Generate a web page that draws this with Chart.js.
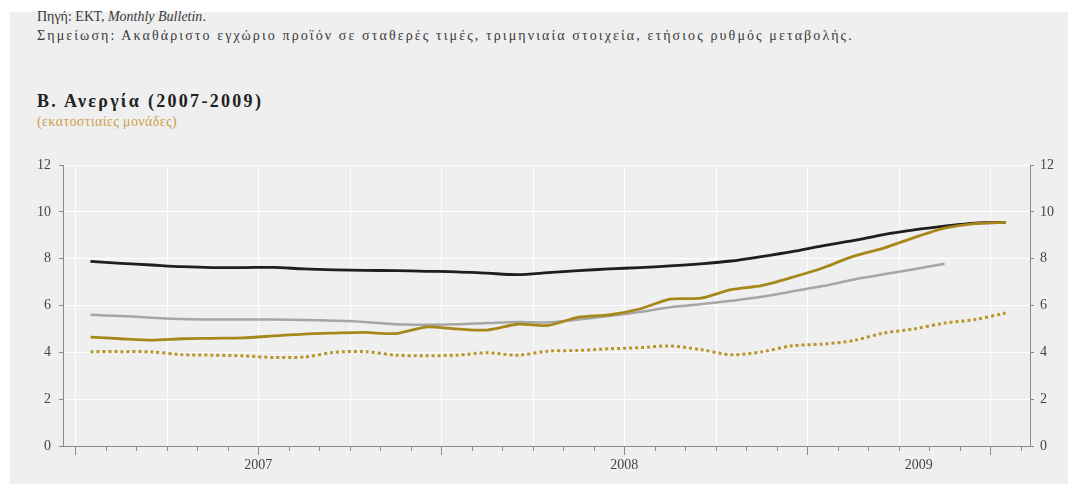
<!DOCTYPE html>
<html>
<head>
<meta charset="utf-8">
<script src="https://cdn.jsdelivr.net/npm/chart.js@4.4.0/dist/chart.umd.min.js"></script>
<style>
    html, body { margin: 0; padding: 0; background: #fff; }
    #panel { position: absolute; left: 10px; top: 12px; width: 1058px; height: 472px; background: #efefef; }
    .txt { position: absolute; font-family: "Liberation Serif", "DejaVu Serif", serif; color: #3a3a3a; white-space: nowrap; }
    #unemploymentChart { position: absolute; left: 0; top: 0; }
</style>
</head>
<body>
<div id="panel"></div>
<div class="txt" style="left:37px; top:9px; font-size:14px;">Πηγή: ΕΚΤ, <i>Monthly Bulletin</i>.</div>
<div class="txt" style="left:37px; top:28px; font-size:14px; letter-spacing:2.1px;">Σημείωση: Ακαθάριστο εγχώριο προϊόν σε σταθερές τιμές, τριμηνιαία στοιχεία, ετήσιος ρυθμός μεταβολής.</div>
<div class="txt" style="left:37px; top:91px; font-size:18px; font-weight:bold; letter-spacing:2.3px; color:#222;">Β. Ανεργία (2007-2009)</div>
<div class="txt" style="left:37px; top:114px; font-size:14px; letter-spacing:0.4px; color:#c9a24a;">(εκατοστιαίες μονάδες)</div>
<canvas id="unemploymentChart" width="1068" height="484"></canvas>
<script>
// monthly observations, Jan 2007 - Jul 2009
const months = [
    '01/2007', '02/2007', '03/2007', '04/2007', '05/2007', '06/2007', '07/2007', '08/2007', '09/2007', '10/2007', '11/2007', '12/2007',
    '01/2008', '02/2008', '03/2008', '04/2008', '05/2008', '06/2008', '07/2008', '08/2008', '09/2008', '10/2008', '11/2008', '12/2008',
    '01/2009', '02/2009', '03/2009', '04/2009', '05/2009', '06/2009', '07/2009'
];
const years = ['2007', '2008', '2009'];
const yTicks = [0, 2, 4, 6, 8, 10, 12];

const euroArea = [7.88, 7.80, 7.73, 7.66, 7.62, 7.62, 7.63, 7.56, 7.52, 7.50, 7.49, 7.46,
    7.44, 7.38, 7.32, 7.40, 7.49, 7.56, 7.62, 7.69, 7.78, 7.90, 8.09, 8.30,
    8.55, 8.77, 9.03, 9.23, 9.39, 9.52, 9.55];
const usa = [4.65, 4.58, 4.52, 4.58, 4.60, 4.62, 4.70, 4.78, 4.82, 4.85, 4.80, 5.08,
    5.00, 4.95, 5.20, 5.15, 5.50, 5.60, 5.85, 6.27, 6.31, 6.68, 6.85, 7.20,
    7.60, 8.10, 8.45, 8.90, 9.30, 9.50, 9.55];
const uk = [5.60, 5.55, 5.48, 5.42, 5.40, 5.40, 5.40, 5.38, 5.35, 5.30, 5.20, 5.18,
    5.20, 5.25, 5.30, 5.28, 5.40, 5.55, 5.72, 5.93, 6.05, 6.20, 6.37, 6.60,
    6.83, 7.10, 7.33, 7.55, 7.78];
const japan = [4.03, 4.03, 4.02, 3.90, 3.88, 3.85, 3.78, 3.80, 4.00, 4.03, 3.88, 3.85,
    3.88, 3.98, 3.88, 4.05, 4.08, 4.15, 4.20, 4.27, 4.12, 3.90, 4.02, 4.28,
    4.35, 4.50, 4.82, 5.00, 5.25, 5.40, 5.68];

const X_MIN = -0.4;
const X_MAX = 31.3;
const AXIS_GREY = '#8a8a8a';

// points sit mid-month, tick marks on month boundaries
function toPoints(values) {
    return values.map((v, i) => ({ x: i + 0.5, y: v }));
}

const monthTicks = {
    id: 'monthTicks',
    beforeDatasetsDraw(chart) {
        const { ctx, chartArea, scales } = chart;
        const xs = scales.x;
        ctx.save();
        for (let m = 0; m <= months.length; m++) {
            const px = Math.round(xs.getPixelForValue(m)) + 0.5;
            if (px < chartArea.left || px > chartArea.right) continue;
            if (m % 3 === 0) {
                ctx.strokeStyle = '#ffffff';
                ctx.lineWidth = 1;
                ctx.beginPath();
                ctx.moveTo(px, chartArea.top);
                ctx.lineTo(px, chartArea.bottom);
                ctx.stroke();
            }
            ctx.strokeStyle = AXIS_GREY;
            ctx.lineWidth = 1;
            ctx.beginPath();
            ctx.moveTo(px, chartArea.bottom);
            ctx.lineTo(px, chartArea.bottom + (m % 6 === 0 ? 9 : 5));
            ctx.stroke();
        }
        ctx.restore();
    }
};

const tickFont = { family: '"Liberation Serif", serif', size: 14 };

new Chart(document.getElementById('unemploymentChart'), {
    type: 'line',
    data: {
        datasets: [
            {
                label: 'ΗΠΑ',
                data: toPoints(usa),
                borderColor: '#a8871a',
                borderWidth: 2.8,
                tension: 0.25
            },
            {
                label: 'Ζώνη του ευρώ',
                data: toPoints(euroArea),
                borderColor: '#1e1e1e',
                borderWidth: 2.8,
                tension: 0.3
            },
            {
                label: 'Ηνωμένο Βασίλειο',
                data: toPoints(uk),
                borderColor: '#a6a6a6',
                borderWidth: 2.5,
                tension: 0.3
            },
            {
                label: 'Ιαπωνία',
                data: toPoints(japan),
                borderColor: '#b8962a',
                borderWidth: 3,
                borderDash: [3, 3],
                borderCapStyle: 'butt',
                tension: 0.3
            }
        ]
    },
    options: {
        responsive: false,
        animation: false,
        events: [],
        layout: {
            padding: { top: 165, left: 0, right: 0, bottom: 0 }
        },
        elements: {
            point: { radius: 0 }
        },
        plugins: {
            legend: { display: false },
            tooltip: { enabled: false }
        },
        scales: {
            x: {
                type: 'linear',
                min: X_MIN,
                max: X_MAX,
                afterBuildTicks: (scale) => {
                    // year label in the middle of each year's span on the axis
                    scale.ticks = [
                        { value: 6 },
                        { value: 18 },
                        { value: (24 + X_MAX) / 2 }
                    ];
                },
                afterFit: (scale) => { scale.height = 38; },
                ticks: {
                    autoSkip: false,
                    maxRotation: 0,
                    padding: 11,
                    color: '#444',
                    font: tickFont,
                    callback: (value, index) => years[index]
                },
                grid: { display: false, drawTicks: false },
                border: { display: true, color: AXIS_GREY, width: 1 }
            },
            y: {
                position: 'left',
                min: 0,
                max: 12,
                afterBuildTicks: (scale) => { scale.ticks = yTicks.map(v => ({ value: v })); },
                afterFit: (scale) => { scale.width = 63; },
                ticks: {
                    padding: 8,
                    color: '#444',
                    font: tickFont
                },
                grid: {
                    color: '#ffffff',
                    lineWidth: 1,
                    tickLength: 4,
                    tickColor: AXIS_GREY
                },
                border: { display: true, color: AXIS_GREY, width: 1 }
            },
            y2: {
                position: 'right',
                min: 0,
                max: 12,
                afterBuildTicks: (scale) => { scale.ticks = yTicks.map(v => ({ value: v })); },
                afterFit: (scale) => { scale.width = 38; },
                ticks: {
                    padding: 6,
                    color: '#444',
                    font: tickFont
                },
                grid: {
                    drawOnChartArea: false,
                    tickLength: 4,
                    tickColor: AXIS_GREY
                },
                border: { display: true, color: AXIS_GREY, width: 1 }
            }
        }
    },
    plugins: [monthTicks]
});
</script>
</body>
</html>
